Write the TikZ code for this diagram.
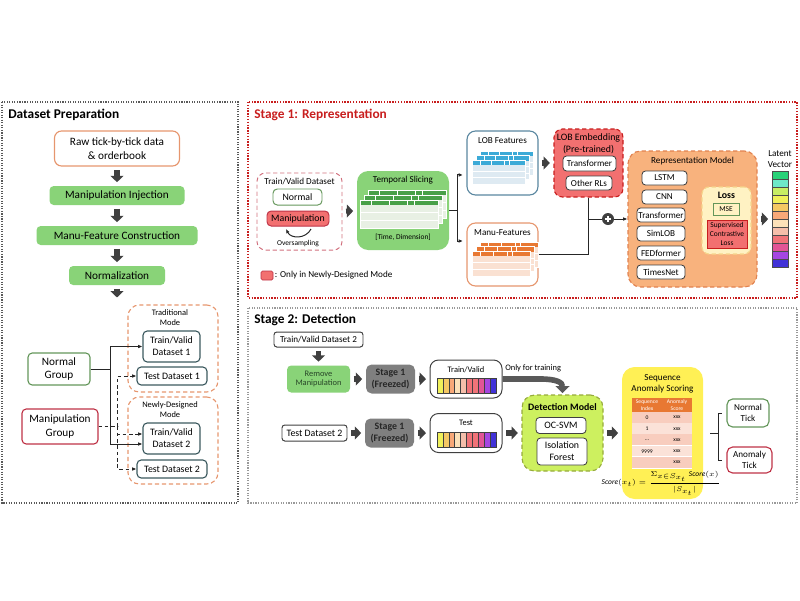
\documentclass[tikz,border=0pt]{standalone}
\usepackage{amsmath}
\usepackage{fontspec}
\setmainfont{Carlito}
\usetikzlibrary{arrows.meta,calc,positioning}

\definecolor{boxgreen}{RGB}{137,211,120}
\definecolor{tshead}{RGB}{72,160,72}
\definecolor{tsbody}{RGB}{232,240,228}
\definecolor{rawor}{RGB}{230,150,110}
\definecolor{slate}{RGB}{60,90,95}
\definecolor{grpgreen}{RGB}{100,150,90}
\definecolor{grpred}{RGB}{190,50,70}
\definecolor{manured}{RGB}{242,112,112}
\definecolor{stagered}{RGB}{200,30,30}
\definecolor{repor}{RGB}{248,178,125}
\definecolor{repedge}{RGB}{225,130,80}
\definecolor{lossfill}{RGB}{255,242,195}
\definecolor{lossedge}{RGB}{245,213,140}
\definecolor{detfill}{RGB}{205,240,95}
\definecolor{detedge}{RGB}{150,170,60}
\definecolor{scorefill}{RGB}{255,240,85}
\definecolor{scorerowa}{RGB}{248,205,190}
\definecolor{scorerowb}{RGB}{251,226,216}
\definecolor{frozen}{RGB}{127,127,127}
\definecolor{fatgray}{RGB}{64,64,64}
\definecolor{lobblue}{RGB}{60,170,215}
\definecolor{lobbody}{RGB}{222,234,242}
\definecolor{lobedge}{RGB}{90,135,160}
\definecolor{manuor}{RGB}{232,120,50}
\definecolor{manubody}{RGB}{250,225,210}
\definecolor{rmvtext}{RGB}{40,70,40}
\definecolor{lv1}{RGB}{40,210,120}
\definecolor{lv2}{RGB}{110,232,200}
\definecolor{lv3}{RGB}{200,238,100}
\definecolor{lv4}{RGB}{240,240,90}
\definecolor{lv5}{RGB}{245,200,100}
\definecolor{lv6}{RGB}{248,168,120}
\definecolor{lv7}{RGB}{252,225,185}
\definecolor{lv8}{RGB}{245,190,170}
\definecolor{lv9}{RGB}{240,115,120}
\definecolor{lv10}{RGB}{225,85,150}
\definecolor{lv11}{RGB}{165,70,225}
\definecolor{lv12}{RGB}{65,50,215}

\def\pxu{0.025cm}

% one small feature table: x, y, width, body height, head colour, body colour
\newcommand{\minitab}[6]{%
  \fill[#6] (#1,{#2+5}) rectangle ++(#3,#4);
  \fill[#5] (#1,#2) rectangle ++(#3,5);
  \foreach \f in {0.15,0.37,0.6,0.7}
    \draw[white,line width=0.3pt] ({#1+\f*#3},#2) -- ++(0,5);
  \foreach \r in {1,2}
    \draw[white,line width=0.5pt] (#1,{#2+5+\r*#4/3}) -- ++(#3,0);
  \draw[white,line width=0.3pt] (#1,#2) rectangle ++(#3,{5+#4});
}

\tikzset{
  every node/.style={align=center, font=\fontsize{7}{8.5}\selectfont},
  ftbig/.style={font=\fontsize{8}{9.5}\selectfont},
  ftmid/.style={font=\fontsize{7}{8.5}\selectfont},
  ftsml/.style={font=\fontsize{6.5}{7.8}\selectfont},
  ftxs/.style={font=\fontsize{6}{7}\selectfont},
  ftxxs/.style={font=\fontsize{5.3}{6.2}\selectfont},
  ftmini/.style={font=\fontsize{4}{4.6}\selectfont},
  ftbld/.style={font=\fontsize{7}{8.5}\selectfont\bfseries},
  ttl/.style={anchor=west, inner sep=0pt, font=\fontsize{9.5}{11}\selectfont\bfseries},
  box/.style 2 args={
    shape=rectangle,
    rounded corners=3pt,
    inner sep=0pt,
    minimum width=#1*\pxu,
    minimum height=#2*\pxu
  },
  proc/.style={fill=boxgreen, ftbig},
  dset/.style={draw=slate, fill=white, line width=0.8pt, ftmid},
  dset2/.style={draw=black!75, fill=white, line width=0.7pt, rounded corners=2pt},
  inbox/.style={draw=black!75, fill=white, line width=0.6pt, rounded corners=2.5pt, ftsml},
  modefr/.style={draw=rawor, line width=0.8pt, dash pattern=on 3pt off 2pt, rounded corners=8pt},
  frz/.style={fill=frozen, text=black!85, rounded corners=4pt, ftbld},
  panel/.style={densely dotted, line width=0.8pt},
  link/.style={draw=black!85, line width=0.7pt},
  tip/.style={-{Latex[length=3pt,width=2.6pt]}},
  dsh/.style={dash pattern=on 2.5pt off 2pt},
  fat/.style={
    draw=fatgray,
    line width=3.6pt,
    -{Triangle[length=4.5pt,width=9pt]},
    shorten <=2.5pt,
    shorten >=2.5pt
  },
  trainarr/.style={
    draw=black!65,
    line width=4pt,
    -{Triangle[length=5pt,width=10pt]},
    shorten >=1pt
  },
  plus/.style={
    circle, fill=fatgray, inner sep=0pt, minimum size=12*\pxu,
    path picture={
      \draw[white, line width=1.3pt]
        (path picture bounding box.center) ++(-2.3pt,0) -- ++(4.6pt,0)
        (path picture bounding box.center) ++(0,-2.3pt) -- ++(0,4.6pt);
    }
  }
}

\begin{document}
\begin{tikzpicture}[x=0.025cm,y=-0.025cm]
\useasboundingbox (0,0) rectangle (800,600);

% ---------------- Dataset Preparation ----------------
\draw[panel, draw=black!65] (2,102) rectangle (238,503);
\node[ttl] (prept) at (8,115) {Dataset Preparation};

\node[box={125}{35}, draw=rawor, line width=0.8pt, rounded corners=5pt, ftbig] (raw) at (117,148.5) {Raw tick-by-tick data\\\& orderbook};
\node[box={135}{19}, proc] (inj) at (117,195.5) {Manipulation Injection};
\node[box={161}{19}, proc] (feat) at (117,235.5) {Manu-Feature Construction};
\node[box={96}{19}, proc] (norm) at (117,275.5) {Normalization};
\coordinate (normout) at (117,301);
\draw[fat] (raw) -- (inj);
\draw[fat] (inj) -- (feat);
\draw[fat] (feat) -- (norm);
\draw[fat] (norm) -- (normout);

\node[box={90}{87}, modefr] (trad) at (173,348.5) {};
\node[ftxs] (tradt) at (170,318) {Traditional\\Mode};
\node[box={57}{31}, dset] (tv1) at (171.5,346.5) {Train/Valid\\Dataset 1};
\node[box={70}{18}, dset] (te1) at (172,376) {Test Dataset 1};

\node[box={90}{87}, modefr] (newm) at (173,440.5) {};
\node[ftxs] (newmt) at (170,410) {Newly-Designed\\Mode};
\node[box={57}{31}, dset] (tv2) at (171.5,438.5) {Train/Valid\\Dataset 2};
\node[box={70}{18}, dset] (te2) at (172,469) {Test Dataset 2};

\node[box={62}{32}, draw=grpgreen, line width=0.8pt, ftbig] (normg) at (59,369) {Normal\\Group};
\node[box={76}{35}, draw=grpred, line width=0.8pt, ftbig] (manig) at (60,426.5) {Manipulation\\Group};

\draw[link, tip] (normg.east) -- ++(20,0) |- (tv1.west);
\draw[link, tip] (normg.east) -- ++(20,0) |- ([yshift=-3.9pt]tv2.west);
\draw[link, tip, dsh] (manig.east) -- ++(19,0) |- (te1.west);
\draw[link, tip, dsh] (manig.east) -- ++(19,0) |- ([yshift=3.2pt]tv2.west);
\draw[link, tip, dsh] (manig.east) -- ++(19,0) |- (te2.west);

% ---------------- Stage 1 ----------------
\draw[panel, draw=stagered, line width=1pt] (248,102) rectangle (797,298);
\node[ttl, text=stagered] (s1t) at (254,115) {Stage 1: Representation};

\node[box={85}{77}, draw=grpred!70, dash pattern=on 3pt off 2pt, line width=0.7pt, rounded corners=6pt] (tvset) at (299.5,211.5) {};
\node[ftsml] (tvsett) at (299.5,181.5) {Train/Valid Dataset};
\node[box={49}{16}, draw=grpgreen, line width=0.7pt, ftmid] (s1norm) at (297.5,197) {Normal};
\node[box={62}{15}, draw=grpred, fill=manured, line width=0.7pt, ftmid] (s1mani) at (298,218.5) {Manipulation};
\coordinate (ovr) at (311,229);
\coordinate (ovl) at (286,229);
\draw[link, tip] (ovr) .. controls (306,239) and (291,239) .. (ovl);
\node[ftxxs] (ovt) at (298,244) {Oversampling};

\node[box={12}{9}, fill=manured, draw=grpred, rounded corners=1pt] (legbox) at (267,275.5) {};
\node[ftsml, anchor=west, inner sep=1pt] (legt) at (legbox.east) {: Only in Newly-Designed Mode};

\node[box={92}{79}, fill=boxgreen, rounded corners=8pt] (tslice) at (403,210.5) {};
\node[ftsml] (tslicet) at (403,180.5) {Temporal Slicing};
\foreach \k in {2,1,0}
  \minitab{360+4*\k}{200-5*\k}{78}{23}{tshead}{tsbody};
\node[ftxxs] (tsdim) at (403,237.5) {[Time, Dimension]};
\draw[fat] (tvset) -- (tslice);

\node[box={71}{64}, draw=lobedge, fill=white, line width=0.8pt, rounded corners=6pt] (lobf) at (502.5,163) {};
\node[ftsml] (lobft) at (502.5,141) {LOB Features};
\foreach \k in {2,1,0}
  \minitab{472+4*\k}{160-4.5*\k}{53}{19}{lobblue}{lobbody};

\node[box={71}{63}, draw=rawor, fill=white, line width=0.8pt, rounded corners=6pt] (manuf) at (502.5,254.5) {};
\node[ftsml] (manuft) at (502.5,233) {Manu-Features};
\foreach \k in {2,1,0}
  \minitab{472+4*\k}{251-4.5*\k}{58}{20}{manuor}{manubody};

\coordinate (brk1) at (457,210.5);
\draw[link] (tslice.east) -- (brk1);
\draw[link, tip, shorten >=2.5pt] (brk1) |- ([yshift=-8.5pt]lobf.west);
\draw[link, tip, shorten >=2.5pt] (brk1) |- ([yshift=9.6pt]manuf.west);

\node[box={69}{68}, fill=manured, draw=stagered, dash pattern=on 3pt off 2pt, line width=0.8pt, rounded corners=6pt] (lobemb) at (588.5,163) {};
\node[ftmid] (lobembt) at (588.5,143.5) {LOB Embedding\\(Pre-trained)};
\node[box={53}{15}, inbox] (embtr) at (589.5,163.5) {Transformer};
\node[box={46}{14}, inbox] (embot) at (589,183) {Other RLs};
\draw[fat] (lobf) -- (lobemb);

\node[box={129}{136}, fill=repor, draw=repedge, dash pattern=on 3pt off 2pt, line width=0.8pt, rounded corners=9pt] (repm) at (692.5,219) {};
\node[ftsml] (repmt) at (692.5,161.5) {Representation Model};
\node[box={45}{14}, inbox] (lstm) at (664.5,178) {LSTM};
\node[box={45}{14}, inbox] (cnn) at (664.5,197) {CNN};
\node[box={48}{14}, inbox] (rtr) at (661,215) {Transformer};
\node[box={48}{15}, inbox] (simlob) at (661,233.5) {SimLOB};
\node[box={48}{14}, inbox] (fed) at (661,253) {FEDformer};
\node[box={48}{14}, inbox] (times) at (661,272) {TimesNet};

\node[box={49}{67}, fill=lossfill, draw=lossedge, dash pattern=on 3pt off 2pt, line width=0.8pt, rounded corners=5pt] (loss) at (726.5,220.5) {};
\node[ftbld] (losst) at (726.5,195.5) {Loss};
\node[box={26}{12}, fill=lossfill, draw=grpgreen, line width=0.6pt, rounded corners=0pt, ftxxs] (mse) at (726,209) {MSE};
\node[box={40}{28}, fill=manured, draw=stagered, line width=0.6pt, rounded corners=0pt, ftxxs] (scl) at (727,234) {Supervised\\Contrastive\\Loss};

\node[plus] (plus) at (608,219) {};
\draw[link] (lobemb.south) |- (plus.west);
\draw[link] (manuf.east) -| (lobemb.south);
\draw[link, tip] (plus.east) -- (repm.west);

\node[ftsml] (latt) at (780,159.5) {Latent\\Vector};
\node[box={16}{96}, rounded corners=0pt] (latent) at (780,219) {};
\foreach \c [count=\i] in {lv1,lv2,lv3,lv4,lv5,lv6,lv7,lv8,lv9,lv10,lv11,lv12}
  \draw[fill=\c, draw=black!70, line width=0.4pt] (772,{171+(\i-1)*8}) rectangle ++(16,8);
\draw[fat] (repm) -- (latent);

% ---------------- Stage 2 ----------------
\draw[panel, draw=black!40] (248,308) rectangle (797,503);
\node[ttl] (s2t) at (254,320) {Stage 2: Detection};

\node[box={89}{15}, dset2, ftsml] (tv2b) at (318.5,339.5) {Train/Valid Dataset 2};
\node[box={63}{27}, fill=boxgreen, text=rmvtext, ftxs] (rmv) at (318.5,379) {Remove\\Manipulation};
\node[box={49}{29}, frz] (fz1) at (390.5,379) {Stage 1\\(Freezed)};
\node[box={72}{38}, dset2, rounded corners=6pt] (tvv) at (466,379) {};
\node[ftxs] (tvvt) at (466,370) {Train/Valid};
\foreach \c [count=\i] in {lv4,lv5,lv6,lv7,lv8,lv9,lv9,lv10,lv11,lv12}
  \draw[fill=\c, draw=black!75, line width=0.35pt] ({437+(\i-1)*5.9},378) rectangle ++(5.9,15);

\node[box={65}{16}, dset2, ftmid] (te2b) at (314.5,433) {Test Dataset 2};
\node[box={49}{29}, frz] (fz2) at (389.5,433) {Stage 1\\(Freezed)};
\node[box={72}{39}, dset2, rounded corners=6pt] (tst) at (466,433) {};
\node[ftxs] (tstt) at (466,423) {Test};
\foreach \c [count=\i] in {lv4,lv5,lv6,lv7,lv8,lv9,lv9,lv10,lv11,lv12}
  \draw[fill=\c, draw=black!75, line width=0.35pt] ({437+(\i-1)*5.9},432) rectangle ++(5.9,15);

\draw[fat] (tv2b) -- (rmv);
\draw[fat] (rmv) -- (fz1);
\draw[fat] (fz1) -- (tvv);
\draw[fat] (te2b) -- (fz2);
\draw[fat] (fz2) -- (tst);

\node[box={81}{76}, fill=detfill, draw=detedge, dash pattern=on 3pt off 2pt, line width=0.8pt, rounded corners=9pt] (det) at (562.5,433) {};
\node[ftbld] (dett) at (562.5,407) {Detection Model};
\node[box={50}{16}, inbox, ftmid] (ocsvm) at (561,425.5) {OC-SVM};
\node[box={50}{27}, inbox, ftmid] (iso) at (562,451.5) {Isolation\\Forest};
\draw[fat] (tst) -- (det);

\node[ftxs, anchor=west, inner sep=0pt] (trnt) at (505,368) {Only for training};
\draw[trainarr] (tvv.east) -- ++(38,0) .. controls +(16,0) and +(0,-12) .. (det.north);

\node[box={81}{132}, fill=scorefill, rounded corners=9pt] (score) at (662.5,433) {};
\node[ftsml] (scoret) at (662.5,384) {Sequence\\Anomaly Scoring};
\fill[manuor] (632,398) rectangle (692,412);
\node[ftmini, text=white] (hidx) at (647,405) {Sequence\\Index};
\node[ftmini, text=white] (hscr) at (677,405) {Anomaly\\Score};
\foreach \a [count=\i] in {0,1,\ldots,9999,{}} {
  \ifodd\i\def\rc{scorerowa}\else\def\rc{scorerowb}\fi
  \fill[\rc] (632,{412+(\i-1)*11.2}) rectangle ++(60,11.2);
  \draw[white, line width=0.5pt] (632,{412+\i*11.2}) -- ++(60,0);
  \node[ftmini] (ri\i) at (647,{417.6+(\i-1)*11.2}) {\a};
  \node[ftmini] (rs\i) at (677,{417.6+(\i-1)*11.2}) {xxx};
}
\node[ftxxs] (formula) at (661,483) {$\mathit{Score}(x_{t})=\dfrac{\Sigma_{x\in S_{x_t}}\,\mathit{Score}(x)}{|S_{x_t}|}$};
\draw[fat] (det) -- (score);

\node[box={42}{28}, draw=grpgreen, line width=0.8pt, rounded corners=4pt, ftsml] (ntick) at (748,413) {Normal\\Tick};
\node[box={45}{26}, draw=grpred, line width=0.8pt, rounded corners=4pt, ftsml] (atick) at (749.5,460) {Anomaly\\Tick};
\coordinate (brk2) at (718,433);
\draw[link, shorten <=5pt] (score.east) -- (brk2);
\draw[link, shorten >=3pt] (brk2) |- (ntick.west);
\draw[link, shorten >=3pt] (brk2) |- (atick.west);

\end{tikzpicture}
\end{document}
